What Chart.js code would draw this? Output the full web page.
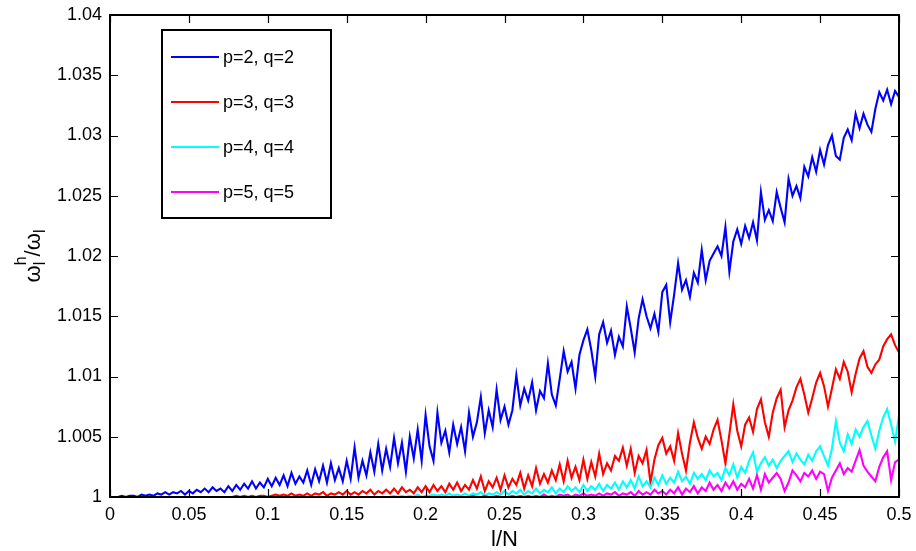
<!DOCTYPE html>
<html>
<head>
<meta charset="utf-8">
<script src="https://cdn.jsdelivr.net/npm/chart.js@4/dist/chart.umd.min.js"></script>
<style>
  html, body { margin: 0; padding: 0; background: #fff; }
  canvas { display: block; }
</style>
</head>
<body>
<canvas id="c" width="916" height="551"></canvas>
<script>
// Sampling step along l/N (201 samples from 0 to 0.5)
const xStep = 0.0025;

// Tick positions and labels
const xTickValues = [0, 0.05, 0.1, 0.15, 0.2, 0.25, 0.3, 0.35, 0.4, 0.45, 0.5];
const xTickLabels = ['0', '0.05', '0.1', '0.15', '0.2', '0.25', '0.3', '0.35', '0.4', '0.45', '0.5'];
const yTickValues = [1, 1.005, 1.01, 1.015, 1.02, 1.025, 1.03, 1.035, 1.04];
const yTickLabels = ['1', '1.005', '1.01', '1.015', '1.02', '1.025', '1.03', '1.035', '1.04'];

// Series labels and colours
const seriesLabels = ['p=2, q=2', 'p=3, q=3', 'p=4, q=4', 'p=5, q=5'];
const seriesColors = ['#0000ff', '#ff0000', '#00ffff', '#ff00ff'];

// omega_l^h / omega_l for p=q=2
const ratioP2 = [
  1.0000,1.0000,1.0000,1.0001,1.0000,1.0001,1.0001,1.0000,1.0002,1.0001,1.0002,
  1.0001,1.0003,1.0002,1.0004,1.0002,1.0004,1.0003,1.0005,1.0002,1.0005,
  1.0003,1.0006,1.0004,1.0007,1.0004,1.0008,1.0005,1.0007,1.0004,1.0009,
  1.0005,1.0010,1.0006,1.0011,1.0007,1.0013,1.0007,1.0012,1.0008,1.0015,
  1.0009,1.0016,1.0010,1.0018,1.0009,1.0020,1.0011,1.0017,1.0012,1.0022,
  1.0010,1.0023,1.0013,1.0026,1.0012,1.0028,1.0014,1.0024,1.0013,1.0030,
  1.0015,1.0041,1.0016,1.0030,1.0018,1.0037,1.0021,1.0044,1.0022,1.0040,
  1.0025,1.0049,1.0028,1.0045,1.0021,1.0050,1.0032,1.0056,1.0030,1.0068,
  1.0042,1.0030,1.0070,1.0045,1.0055,1.0037,1.0060,1.0044,1.0058,1.0038,
  1.0070,1.0050,1.0062,1.0083,1.0053,1.0072,1.0058,1.0089,1.0064,1.0075,
  1.0060,1.0072,1.0101,1.0076,1.0090,1.0080,1.0095,1.0072,1.0088,1.0082,
  1.0111,1.0085,1.0076,1.0098,1.0121,1.0104,1.0112,1.0090,1.0118,1.0130,
  1.0139,1.0122,1.0100,1.0135,1.0145,1.0128,1.0138,1.0118,1.0133,1.0125,
  1.0158,1.0140,1.0120,1.0148,1.0164,1.0150,1.0140,1.0152,1.0137,1.0170,
  1.0176,1.0145,1.0168,1.0194,1.0172,1.0180,1.0166,1.0186,1.0178,1.0205,
  1.0180,1.0196,1.0202,1.0208,1.0200,1.0224,1.0187,1.0212,1.0222,1.0210,
  1.0225,1.0215,1.0228,1.0213,1.0253,1.0230,1.0238,1.0229,1.0253,1.0240,
  1.0228,1.0264,1.0250,1.0258,1.0248,1.0274,1.0266,1.0282,1.0270,1.0288,
  1.0276,1.0292,1.0300,1.0283,1.0280,1.0298,1.0305,1.0296,1.0318,1.0306,
  1.0318,1.0309,1.0303,1.0322,1.0336,1.0329,1.0338,1.0326,1.0337,1.0332
];

// omega_l^h / omega_l for p=q=3
const ratioP3 = [
  1.0000,1.0000,1.0000,1.0000,1.0000,1.0000,1.0000,1.0000,1.0000,1.0000,1.0000,
  1.0000,1.0000,1.0000,1.0000,1.0000,1.0000,1.0000,1.0000,1.0000,1.0000,
  1.0000,1.0000,1.0000,1.0000,1.0000,1.0000,1.0000,1.0000,1.0000,1.0000,
  1.0000,1.0001,1.0000,1.0001,1.0000,1.0001,1.0000,1.0001,1.0001,1.0000,
  1.0001,1.0002,1.0001,1.0002,1.0001,1.0003,1.0001,1.0002,1.0001,1.0003,
  1.0001,1.0003,1.0002,1.0004,1.0001,1.0003,1.0002,1.0004,1.0002,1.0005,
  1.0002,1.0004,1.0002,1.0005,1.0003,1.0006,1.0002,1.0005,1.0003,1.0006,
  1.0003,1.0007,1.0003,1.0008,1.0004,1.0006,1.0003,1.0008,1.0004,1.0009,
  1.0004,1.0010,1.0005,1.0009,1.0004,1.0011,1.0006,1.0012,1.0005,1.0010,
  1.0006,1.0014,1.0007,1.0017,1.0005,1.0013,1.0008,1.0016,1.0006,1.0018,
  1.0008,1.0015,1.0010,1.0020,1.0007,1.0018,1.0009,1.0024,1.0011,1.0019,
  1.0012,1.0022,1.0014,1.0027,1.0013,1.0030,1.0016,1.0025,1.0014,1.0031,
  1.0015,1.0029,1.0017,1.0036,1.0019,1.0028,1.0022,1.0034,1.0030,1.0041,
  1.0026,1.0040,1.0020,1.0034,1.0028,1.0039,1.0012,1.0031,1.0043,1.0049,
  1.0036,1.0042,1.0030,1.0053,1.0036,1.0022,1.0045,1.0062,1.0049,1.0040,
  1.0050,1.0044,1.0056,1.0064,1.0047,1.0028,1.0052,1.0077,1.0055,1.0042,
  1.0060,1.0066,1.0054,1.0073,1.0081,1.0062,1.0050,1.0070,1.0082,1.0089,
  1.0058,1.0072,1.0080,1.0091,1.0098,1.0085,1.0070,1.0082,1.0095,1.0103,
  1.0092,1.0075,1.0090,1.0106,1.0098,1.0112,1.0104,1.0087,1.0102,1.0115,
  1.0121,1.0108,1.0103,1.0110,1.0114,1.0125,1.0131,1.0135,1.0126,1.0120
];

// omega_l^h / omega_l for p=q=4
const ratioP4 = [
  1.0000,1.0000,1.0000,1.0000,1.0000,1.0000,1.0000,1.0000,1.0000,1.0000,1.0000,
  1.0000,1.0000,1.0000,1.0000,1.0000,1.0000,1.0000,1.0000,1.0000,1.0000,
  1.0000,1.0000,1.0000,1.0000,1.0000,1.0000,1.0000,1.0000,1.0000,1.0000,
  1.0000,1.0000,1.0000,1.0000,1.0000,1.0000,1.0000,1.0000,1.0000,1.0000,
  1.0000,1.0000,1.0000,1.0000,1.0000,1.0000,1.0000,1.0000,1.0000,1.0000,
  1.0000,1.0000,1.0000,1.0000,1.0000,1.0000,1.0000,1.0000,1.0000,1.0000,
  1.0000,1.0000,1.0000,1.0000,1.0000,1.0000,1.0000,1.0000,1.0000,1.0000,
  1.0000,1.0001,1.0000,1.0001,1.0000,1.0001,1.0000,1.0002,1.0000,1.0001,
  1.0001,1.0002,1.0001,1.0002,1.0001,1.0003,1.0001,1.0002,1.0001,1.0003,
  1.0001,1.0003,1.0002,1.0004,1.0001,1.0003,1.0002,1.0004,1.0002,1.0005,
  1.0002,1.0005,1.0003,1.0006,1.0002,1.0005,1.0003,1.0007,1.0003,1.0006,
  1.0004,1.0008,1.0003,1.0007,1.0004,1.0009,1.0005,1.0008,1.0004,1.0010,
  1.0005,1.0009,1.0006,1.0011,1.0005,1.0010,1.0007,1.0012,1.0006,1.0013,
  1.0008,1.0014,1.0007,1.0017,1.0009,1.0013,1.0008,1.0016,1.0010,1.0018,
  1.0011,1.0016,1.0012,1.0021,1.0013,1.0017,1.0011,1.0020,1.0015,1.0019,
  1.0014,1.0022,1.0017,1.0020,1.0014,1.0024,1.0018,1.0027,1.0016,1.0025,
  1.0020,1.0030,1.0037,1.0021,1.0028,1.0033,1.0026,1.0031,1.0024,1.0030,
  1.0034,1.0038,1.0029,1.0036,1.0031,1.0027,1.0035,1.0030,1.0038,1.0042,
  1.0034,1.0026,1.0040,1.0063,1.0045,1.0038,1.0052,1.0044,1.0056,1.0050,
  1.0058,1.0063,1.0051,1.0040,1.0055,1.0066,1.0073,1.0060,1.0046,1.0068
];

// omega_l^h / omega_l for p=q=5
const ratioP5 = [
  1.0000,1.0000,1.0000,1.0000,1.0000,1.0000,1.0000,1.0000,1.0000,1.0000,1.0000,
  1.0000,1.0000,1.0000,1.0000,1.0000,1.0000,1.0000,1.0000,1.0000,1.0000,
  1.0000,1.0000,1.0000,1.0000,1.0000,1.0000,1.0000,1.0000,1.0000,1.0000,
  1.0000,1.0000,1.0000,1.0000,1.0000,1.0000,1.0000,1.0000,1.0000,1.0000,
  1.0000,1.0000,1.0000,1.0000,1.0000,1.0000,1.0000,1.0000,1.0000,1.0000,
  1.0000,1.0000,1.0000,1.0000,1.0000,1.0000,1.0000,1.0000,1.0000,1.0000,
  1.0000,1.0000,1.0000,1.0000,1.0000,1.0000,1.0000,1.0000,1.0000,1.0000,
  1.0000,1.0000,1.0000,1.0000,1.0000,1.0000,1.0000,1.0000,1.0000,1.0000,
  1.0000,1.0000,1.0000,1.0000,1.0000,1.0000,1.0000,1.0000,1.0000,1.0000,
  1.0000,1.0001,1.0000,1.0000,1.0001,1.0000,1.0000,1.0001,1.0000,1.0000,
  1.0000,1.0001,1.0000,1.0001,1.0000,1.0001,1.0000,1.0001,1.0000,1.0002,
  1.0000,1.0001,1.0000,1.0002,1.0001,1.0002,1.0000,1.0002,1.0001,1.0003,
  1.0001,1.0002,1.0001,1.0003,1.0001,1.0003,1.0002,1.0004,1.0001,1.0003,
  1.0002,1.0004,1.0001,1.0005,1.0002,1.0004,1.0002,1.0006,1.0003,1.0005,
  1.0002,1.0006,1.0003,1.0008,1.0002,1.0007,1.0004,1.0009,1.0003,1.0008,
  1.0005,1.0012,1.0006,1.0010,1.0005,1.0012,1.0007,1.0013,1.0006,1.0011,
  1.0008,1.0015,1.0007,1.0018,1.0006,1.0019,1.0012,1.0016,1.0020,1.0015,
  1.0005,1.0012,1.0022,1.0018,1.0013,1.0020,1.0017,1.0022,1.0015,1.0021,
  1.0019,1.0005,1.0016,1.0022,1.0028,1.0019,1.0024,1.0021,1.0030,1.0039,
  1.0026,1.0021,1.0017,1.0013,1.0025,1.0033,1.0038,1.0014,1.0029,1.0031
];

const FONT = '"Liberation Sans", Arial, Helvetica, sans-serif';

function toPoints(values) {
  return values.map((v, i) => ({ x: +(i * xStep).toFixed(4), y: v }));
}

const seriesValues = [ratioP2, ratioP3, ratioP4, ratioP5];
const datasets = seriesValues.map((vals, k) => ({
  label: seriesLabels[k],
  data: toPoints(vals),
  borderColor: seriesColors[k],
  backgroundColor: seriesColors[k],
  borderWidth: 2.1,
  pointRadius: 0,
  tension: 0,
  fill: false,
  order: seriesValues.length - k   // later series are drawn on top
}));

// Box frame with inward tick marks on all four sides
const frameTicks = {
  id: 'frameTicks',
  afterDatasetsDraw(chart) {
    const { ctx, chartArea: a, scales: { x, y } } = chart;
    const len = 8;
    ctx.save();
    ctx.strokeStyle = '#000';
    ctx.lineWidth = 1.2;
    ctx.beginPath();
    xTickValues.forEach(v => {
      const px = Math.round(x.getPixelForValue(v)) + 0.5;
      ctx.moveTo(px, a.bottom); ctx.lineTo(px, a.bottom - len);
      ctx.moveTo(px, a.top); ctx.lineTo(px, a.top + len);
    });
    yTickValues.forEach(v => {
      const py = Math.round(y.getPixelForValue(v)) + 0.5;
      ctx.moveTo(a.left, py); ctx.lineTo(a.left + len, py);
      ctx.moveTo(a.right, py); ctx.lineTo(a.right - len, py);
    });
    ctx.stroke();
    ctx.lineWidth = 2;
    ctx.strokeRect(a.left, a.top, a.right - a.left, a.bottom - a.top);
    ctx.restore();
  }
};

// Boxed legend in the upper-left of the plot
const boxedLegend = {
  id: 'boxedLegend',
  afterDraw(chart) {
    const { ctx, chartArea: a } = chart;
    const bx = a.left + 52, by = a.top + 15, bw = 169, bh = 188;
    ctx.save();
    ctx.fillStyle = '#fff';
    ctx.fillRect(bx, by, bw, bh);
    ctx.strokeStyle = '#000';
    ctx.lineWidth = 2;
    ctx.strokeRect(bx, by, bw, bh);
    ctx.font = '18px ' + FONT;
    ctx.textBaseline = 'middle';
    ctx.textAlign = 'left';
    chart.data.datasets.forEach((ds, i) => {
      const ry = by + 27 + i * 45;
      ctx.strokeStyle = ds.borderColor;
      ctx.lineWidth = 2;
      ctx.beginPath();
      ctx.moveTo(bx + 9, ry); ctx.lineTo(bx + 57, ry);
      ctx.stroke();
      ctx.fillStyle = '#000';
      ctx.fillText(ds.label, bx + 61, ry + 1);
    });
    ctx.restore();
  }
};

// Axis titles: l/N below, omega_l^h / omega_l rotated on the left
const axisTitles = {
  id: 'axisTitles',
  afterDraw(chart) {
    const { ctx, chartArea: a } = chart;
    ctx.save();
    ctx.fillStyle = '#000';
    ctx.font = '22px ' + FONT;
    ctx.textAlign = 'center';
    ctx.textBaseline = 'alphabetic';
    ctx.fillText('l/N', (a.left + a.right) / 2, 546);

    const big = '22px ' + FONT, small = '16px ' + FONT;
    const parts = [
      { t: 'ω', f: big, dy: 0 },
      { t: 'l', f: small, dy: 5, keep: true },
      { t: 'h', f: small, dy: -14 },
      { t: '/ω', f: big, dy: 0 },
      { t: 'l', f: small, dy: 5 }
    ];
    let total = 0;
    const widths = parts.map(p => { ctx.font = p.f; return ctx.measureText(p.t).width; });
    parts.forEach((p, i) => { if (!p.keep) total += widths[i]; });
    ctx.translate(40, (a.top + a.bottom) / 2);
    ctx.rotate(-Math.PI / 2);
    ctx.textAlign = 'left';
    let cx = -total / 2;
    parts.forEach((p, i) => {
      ctx.font = p.f;
      ctx.fillText(p.t, cx, p.dy);
      if (!p.keep) cx += widths[i];
    });
    ctx.restore();
  }
};

new Chart(document.getElementById('c'), {
  type: 'line',
  data: { datasets },
  options: {
    responsive: false,
    animation: false,
    events: [],
    layout: { padding: { left: 0, right: 17, top: 15, bottom: 0 } },
    plugins: { legend: { display: false }, tooltip: { enabled: false } },
    scales: {
      x: {
        type: 'linear',
        min: 0, max: 0.5,
        grid: { display: false, drawTicks: false },
        border: { display: false },
        afterBuildTicks(s) { s.ticks = xTickValues.map(v => ({ value: v })); },
        afterFit(s) { s.height = 54; s.paddingLeft = 0; s.paddingRight = 0; },
        ticks: {
          padding: 7,
          color: '#000',
          font: { family: FONT, size: 18 },
          maxRotation: 0,
          autoSkip: false,
          callback: (v) => xTickLabels[xTickValues.indexOf(+(+v).toFixed(4))] ?? ''
        }
      },
      y: {
        type: 'linear',
        min: 1, max: 1.04,
        grid: { display: false, drawTicks: false },
        border: { display: false },
        afterBuildTicks(s) { s.ticks = yTickValues.map(v => ({ value: v })); },
        afterFit(s) { s.width = 110; s.paddingTop = 0; s.paddingBottom = 0; },
        ticks: {
          padding: 8,
          color: '#000',
          font: { family: FONT, size: 18 },
          autoSkip: false,
          callback: (v) => yTickLabels[yTickValues.indexOf(+(+v).toFixed(4))] ?? ''
        }
      }
    }
  },
  plugins: [frameTicks, boxedLegend, axisTitles]
});
</script>
</body>
</html>
